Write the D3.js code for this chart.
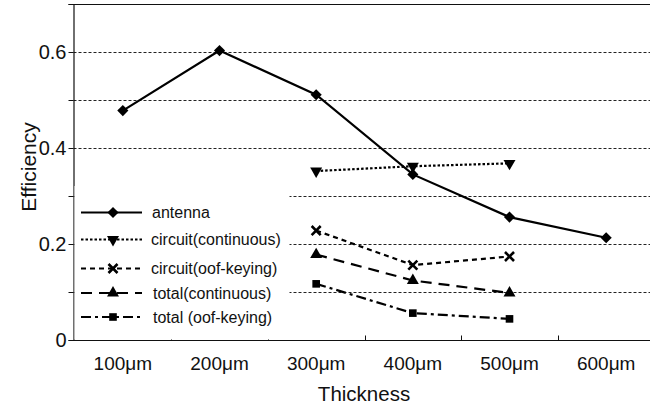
<!DOCTYPE html>
<html>
<head>
<meta charset="utf-8">
<script src="https://cdn.jsdelivr.net/npm/d3@7"></script>
<style>
  html, body { margin: 0; padding: 0; background: #fff; }
  svg { display: block; font-family: "Liberation Sans", Arial, sans-serif; }
</style>
</head>
<body>
<svg id="chart" width="650" height="409"></svg>
<script>
// ---- data ----
const categories = ["100\u03bcm", "200\u03bcm", "300\u03bcm", "400\u03bcm", "500\u03bcm", "600\u03bcm"];
const antenna            = [0.478, 0.603, 0.511, 0.345, 0.256, 0.213];
const circuitContinuous  = [null, null, 0.352, 0.362, 0.368, null];
const circuitOofKeying   = [null, null, 0.228, 0.156, 0.174, null];
const totalContinuous    = [null, null, 0.178, 0.124, 0.098, null];
const totalOofKeying     = [null, null, 0.117, 0.056, 0.044, null];
const seriesNames = ["antenna", "circuit(continuous)", "circuit(oof-keying)", "total(continuous)", "total (oof-keying)"];
const yTicks = [0, 0.1, 0.2, 0.3, 0.4, 0.5, 0.6];
const yLabelTicks = [0, 0.2, 0.4, 0.6];

// ---- styles ----
const seriesData = [antenna, circuitContinuous, circuitOofKeying, totalContinuous, totalOofKeying];
const styles = [
  { dash: null,          width: 2.2, symbol: "diamond" },
  { dash: "2.5,2",       width: 2.2, symbol: "down" },
  { dash: "5,4",         width: 2.2, symbol: "x" },
  { dash: "11,7",        width: 2.2, symbol: "up" },
  { dash: "10,4,3,4",    width: 2.2, symbol: "square" }
];

const svg = d3.select("#chart");
const plotLeft = 73.5, plotTop = 4.5, plotBottom = 340.5, plotRight = 650;

const x = d3.scaleBand().domain(categories).range([74.5, 654.5]).padding(0);
const y = d3.scaleLinear().domain([0, 0.7]).range([340, 4]);
const cx = c => x(c) + x.bandwidth() / 2;

// gridlines
svg.append("g").selectAll("line").data(yTicks.filter(d => d > 0)).join("line")
  .attr("x1", plotLeft).attr("x2", plotRight)
  .attr("y1", d => Math.round(y(d)) + 0.5).attr("y2", d => Math.round(y(d)) + 0.5)
  .attr("stroke", "#222").attr("stroke-width", 1).attr("stroke-dasharray", "3,2");

// frame: top border
svg.append("line").attr("x1", plotLeft).attr("x2", plotRight).attr("y1", plotTop).attr("y2", plotTop)
  .attr("stroke", "#111").attr("stroke-width", 1.2);

// y axis
const yAxis = d3.axisLeft(y).tickValues(yTicks.concat([0.7])).tickSize(5).tickPadding(2)
  .tickFormat(d => yLabelTicks.includes(d) ? (d === 0 ? "0" : d.toFixed(1)) : "");
const gy = svg.append("g").attr("transform", `translate(${plotLeft},0)`).call(yAxis);
gy.select(".domain").attr("stroke", "#111").attr("stroke-width", 1.2);
gy.selectAll(".tick line").attr("stroke", "#111");
gy.selectAll(".tick text").attr("font-size", 20).attr("fill", "#111")
  .attr("font-family", "'Liberation Sans', Arial, sans-serif");

// x axis
const xAxis = d3.axisBottom(x).tickSize(0).tickPadding(16).tickSizeOuter(0);
const gx = svg.append("g").attr("transform", `translate(0,${plotBottom})`).call(xAxis);
gx.select(".domain").attr("stroke", "#111").attr("stroke-width", 1.2)
  .attr("d", `M${plotLeft},0H${plotRight}`);
gx.selectAll(".tick text").attr("font-size", 19).attr("fill", "#111")
  .attr("font-family", "'Liberation Sans', Arial, sans-serif");
// inside ticks at band boundaries
svg.append("g").selectAll("line").data(categories.slice(1)).join("line")
  .attr("x1", d => Math.round(x(d)) + 0.5).attr("x2", d => Math.round(x(d)) + 0.5)
  .attr("y1", plotBottom).attr("y2", plotBottom - 5)
  .attr("stroke", "#111").attr("stroke-width", 1);

// axis titles
svg.append("text").attr("x", 364).attr("y", 401).attr("text-anchor", "middle")
  .attr("font-size", 20.5).attr("fill", "#111").text("Thickness");
svg.append("text").attr("transform", "translate(36,167) rotate(-90)").attr("text-anchor", "middle")
  .attr("font-size", 21).attr("fill", "#111").text("Efficiency");

// symbols
function symbolPath(kind) {
  if (kind === "diamond") return d3.symbol(d3.symbolSquare, 62)();
  if (kind === "down" || kind === "up") return d3.symbol(d3.symbolTriangle, 62)();
  if (kind === "x") return d3.symbol(d3.symbolX, 55)();
  if (kind === "square") return d3.symbol(d3.symbolSquare, 58)();
}
function symbolRotate(kind) {
  if (kind === "diamond") return 45;
  if (kind === "down") return 180;
  return 0;
}
function drawSymbol(g, kind, px, py) {
  const p = g.append("path").attr("d", symbolPath(kind))
    .attr("transform", `translate(${px},${py}) rotate(${symbolRotate(kind)})`);
  if (kind === "x") p.attr("fill", "none").attr("stroke", "#000").attr("stroke-width", 2.6);
  else p.attr("fill", "#000");
}

// series
const line = d3.line().defined(d => d.v != null).x(d => cx(d.c)).y(d => y(d.v));
const order = [4, 3, 2, 1, 0];
order.forEach(i => {
  const pts = categories.map((c, k) => ({ c, v: seriesData[i][k] }));
  const g = svg.append("g");
  g.append("path").datum(pts).attr("d", line).attr("fill", "none")
    .attr("stroke", "#000").attr("stroke-width", styles[i].width)
    .attr("stroke-dasharray", styles[i].dash);
  pts.filter(d => d.v != null).forEach(d => drawSymbol(g, styles[i].symbol, cx(d.c), y(d.v)));
});

// legend
svg.append("rect").attr("x", 74.5).attr("y", 186).attr("width", 215).attr("height", 153.5).attr("fill", "#fff");
const legendY = [212.5, 239.5, 268.5, 293, 317];
const legendTextX = [152, 151, 151, 153, 153];
const lg = svg.append("g");
seriesNames.forEach((name, i) => {
  lg.append("line").attr("x1", 81).attr("x2", 142).attr("y1", legendY[i]).attr("y2", legendY[i])
    .attr("stroke", "#000").attr("stroke-width", styles[i].width)
    .attr("stroke-dasharray", styles[i].dash);
  drawSymbol(lg, styles[i].symbol, 113, legendY[i]);
  lg.append("text").attr("x", legendTextX[i]).attr("y", legendY[i]).attr("dy", "0.35em")
    .attr("font-size", 16).attr("fill", "#111").text(name);
});
</script>
</body>
</html>
